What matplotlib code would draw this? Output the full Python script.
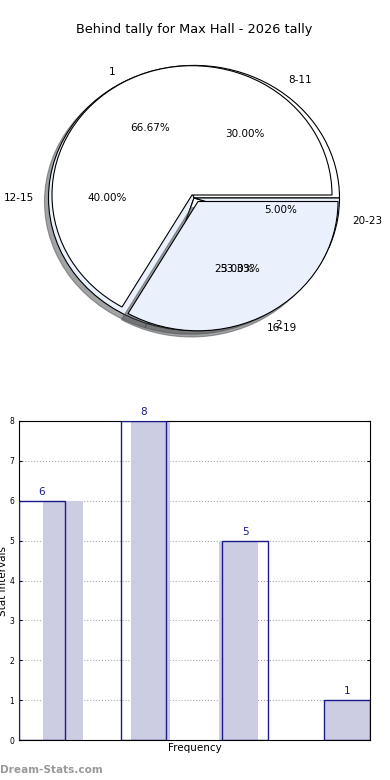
import matplotlib
matplotlib.use("Agg")
import matplotlib.pyplot as plt
from matplotlib.patches import Shadow
from matplotlib.transforms import Affine2D
import numpy as np

title = "Behind tally for Max Hall - 2026 tally"
pie_a_labels = ["1", "2"]
pie_a_values = [66.67, 33.33]
pie_b_labels = ["8-11", "12-15", "16-19", "20-23"]
pie_b_values = [30.0, 40.0, 25.0, 5.0]
bar_values = [6, 8, 5, 1]

W, H = 390, 780
fig = plt.figure(figsize=(W / 100, H / 100), dpi=100)

WHITE = "#ffffff"
LBLUE = "#eaf0fc"
NAVY = "#1a1a8c"
LAV = "#ccccE3"

# ---- pie ----
cx, cy, rx, ry = 192, 195, 140, 129.3      # pie A geometry in pixels
cxb, cyb, rxb, ryb = 194, 198, 145.5, 132.6  # pie B geometry in pixels
lim = 1.25
rect = [(cx - lim * rx) / W, 1 - (cy + lim * ry) / H, 2 * lim * rx / W, 2 * lim * ry / H]
axp = fig.add_axes(rect)

sx, sy = rxb / rx, ryb / ry
ox, oy = (cxb - cx) / rx, -(cyb - cy) / ry
geo_b = Affine2D().scale(sx, sy).translate(ox, oy)

n_before = len(axp.patches)
wb, tb, ab = axp.pie(pie_b_values, labels=pie_b_labels, autopct="%.2f%%",
                     startangle=0, radius=1.0, colors=[WHITE, LBLUE] * 2,
                     shadow=True, wedgeprops=dict(edgecolor="black", linewidth=0.8),
                     textprops=dict(fontsize=7.5))
for p in axp.patches[n_before:]:
    p.set_transform(geo_b + axp.transData)
for t in list(tb) + list(ab):
    t.set_position(tuple(geo_b.transform(t.get_position())))
    t.set_zorder(5)

wa, ta, aa = axp.pie(pie_a_values, labels=pie_a_labels, autopct="%.2f%%",
                     startangle=0, radius=1.0, colors=[WHITE, LBLUE],
                     shadow=False,
                     wedgeprops=dict(edgecolor="black", linewidth=0.8, zorder=2),
                     textprops=dict(fontsize=7.5, zorder=5))
# slice "2" pulled out toward lower right
shift = Affine2D().translate(6 / rx, -6.5 / ry)
wa[1].set_transform(shift + axp.transData)
sh = Shadow(wa[1], -0.02, -0.02, label="_nolegend_")
sh.set_transform(shift + axp.transData + Affine2D().translate(-0.02 * rx, -0.02 * ry))
sh.set_zorder(1.95)
axp.add_patch(sh)
for t in (ta[1], aa[1]):
    t.set_position(tuple(shift.transform(t.get_position())))

axp.set_aspect("auto")
axp.set_xlim(-lim, lim)
axp.set_ylim(-lim, lim)
axp.axis("off")

fig.text(194 / W, 1 - 30 / H, title, ha="center", va="center", fontsize=9.3)

# ---- bars ----
left, right, top, bottom = 19, 370, 421, 740
axb = fig.add_axes([left / W, 1 - bottom / H, (right - left) / W, (bottom - top) / H])
unit = 101.7
n = len(bar_values)
x = np.arange(n)
fill_left = np.array([43, 131, 219, 324]) - left
fill_w = np.array([40, 39, 39, 46])
axb.bar(fill_left / unit, bar_values, width=fill_w / unit, align="edge",
        color=LAV, edgecolor="none", zorder=2)
out_w = 45.7 / unit
axb.bar(x, bar_values, width=out_w, align="edge", facecolor="none",
        edgecolor=NAVY, linewidth=1.0, zorder=3)
for xi, v in zip(x, bar_values):
    axb.text(xi + out_w / 2, v + 0.1, str(v), ha="center", va="bottom",
             color=NAVY, fontsize=7.5)
axb.set_xlim(0, (right - left) / unit)
axb.set_ylim(0, 8)
axb.set_yticks(range(0, 9))
axb.set_xticks([])
axb.tick_params(axis="y", labelsize=5.5, length=2, direction="in", right=True)
axb.grid(axis="y", linestyle=":", color="#aaaaaa", linewidth=0.8, zorder=0)
axb.set_axisbelow(True)
for s in axb.spines.values():
    s.set_linewidth(0.8)
axb.set_xlabel("Frequency", fontsize=7.5, labelpad=2)
axb.set_ylabel("Stat Intervals", fontsize=7.5, labelpad=1)

fig.text(0, 1 - 770 / H, "Dream-Stats.com", ha="left", va="center",
         fontsize=7.6, color="#999999", fontweight="bold")

fig.savefig("out.png", dpi=100)
